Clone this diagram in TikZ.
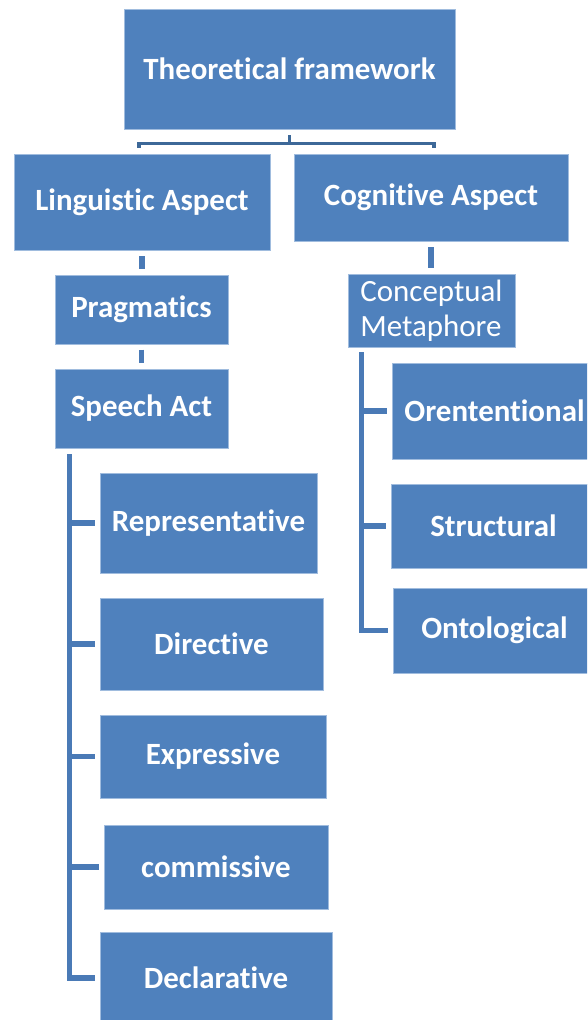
\documentclass[tikz,border=0pt]{standalone}
\usepackage{fontspec}
\setmainfont{Carlito}[Ligatures={NoCommon}]
\usepackage{tikz}
\usepackage{xcolor}
\usetikzlibrary{positioning, calc}
\definecolor{cBox}{RGB}{79,129,189}
\definecolor{cEdge}{RGB}{160,188,222}
\definecolor{cLink}{RGB}{74,122,182}
\definecolor{cBar}{RGB}{61,104,152}
\newcommand{\diagfont}{\fontsize{22}{25}\selectfont}
\tikzset{
	box/.style={rectangle, draw=cEdge, line width=0.6pt, fill=cBox, text=white, align=center, inner sep=2pt, font=\diagfont\bfseries},
	plainbox/.style={box, align=left, font=\diagfont},
	link/.style={draw=cLink, line width=3.6pt},
	bar/.style={draw=cBar, line width=2.4pt},
}
\begin{document}
\begin{tikzpicture}[x=0.025cm, y=-0.025cm]
	\clip (0,0) rectangle (587,1020);
	% top level
	\node[box, minimum width=8.275cm, minimum height=3cm] (top) at (289.5,69) {Theoretical framework};
	\node[box, minimum width=6.4cm, minimum height=2.4cm] (ling) at (142,202) {Linguistic Aspect};
	\node[box, minimum width=6.85cm, minimum height=2.175cm] (cogn) at (431,197.5) {Cognitive Aspect};
	% linguistic branch
	\node[box, minimum width=4.325cm, minimum height=1.725cm] (prag) at (141.5,309.5) {Pragmatics};
	\node[box, minimum width=4.325cm, minimum height=1.975cm] (speech) at (141.5,408.5) {Speech Act};
	\node[box, minimum width=5.425cm, minimum height=2.5cm] (repr) at (208.5,523) {Representative};
	\node[box, minimum width=5.575cm, minimum height=2.3cm] (dir) at (211.5,644) {Directive};
	\node[box, minimum width=5.65cm, minimum height=2.075cm] (expr) at (213,756.5) {Expressive};
	\node[box, minimum width=5.6cm, minimum height=2.1cm] (comm) at (216,867) {commissive};
	\node[box, minimum width=5.8cm, minimum height=2.3cm] (decl) at (216,978) {Declarative};
	% cognitive branch
	\node[plainbox, minimum width=4.175cm, minimum height=1.825cm] (meta) at (431.5,310.5) {Conceptual\\Metaphore};
	\node[box, minimum width=5.125cm, minimum height=2.4cm] (orient) at (494.5,411) {Orententional};
	\node[box, minimum width=5.125cm, minimum height=2.1cm] (struct) at (493.5,526) {Structural};
	\node[box, minimum width=5.075cm, minimum height=2.125cm] (onto) at (494.5,630.5) {Ontological};

	\coordinate (barmid) at ($(top.south)+(0,14)$);
	\draw[bar] ($(top.south)+(0,6)$) -- (barmid);
	\draw[bar] ($(ling.north)+(-3,-6)$) |- (barmid) -| ($(cogn.north)+(3,-6)$);

	\draw[link, shorten <=0.15cm, shorten >=0.15cm] (ling.south) -- (ling.south |- prag.north);
	\draw[link, shorten <=0.13cm, shorten >=0.15cm] (prag.south) -- (prag.south |- speech.north);
	\draw[link, shorten <=0.15cm, shorten >=0.15cm] (cogn.south) -- (cogn.south |- meta.north);

	% speech act list
	\coordinate (sl) at ($(speech.south west)+(15,6)$);
	\draw[link] (sl) |- ($(decl.west)+(-5,0)$);
	\foreach \n in {repr,dir,expr,comm}
		\draw[link] (sl |- \n.west) -- ($(\n.west)+(-5,0)$);

	% metaphor list
	\coordinate (ml) at ($(meta.south west)+(14,5)$);
	\draw[link] (ml) |- ($(onto.west)+(-5,0)$);
	\foreach \n in {orient,struct}
		\draw[link] (ml |- \n.west) -- ($(\n.west)+(-5,0)$);
\end{tikzpicture}
\end{document}
